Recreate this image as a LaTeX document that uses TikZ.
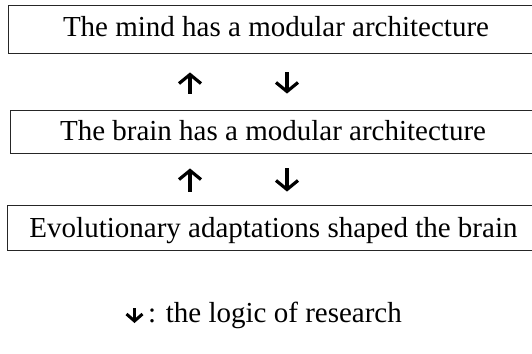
\documentclass[tikz,border=0pt]{standalone}
\usepackage{fontspec}
\setmainfont{Liberation Serif}
\usetikzlibrary{arrows.meta}
\tikzset{
  boxsty/.style={draw=black!85, line width=0.9pt, rectangle, inner sep=0pt},
  txt/.style={inner sep=0pt, font=\fontsize{29}{34}\selectfont},
  arr/.style={line width=3.2pt, -{Straight Barb[length=9pt,width=22pt,line width=3.2pt]}},
  smallarr/.style={line width=3pt, -{Straight Barb[length=7pt,width=16pt,line width=3pt]}}
}
\begin{document}
\begin{tikzpicture}[x=1pt,y=-1pt]
\clip (0,0) rectangle (532,353);
\fill[white] (0,0) rectangle (532,353);
% boxes
\node[boxsty, minimum width=536pt, minimum height=48pt] (b1) at (276,29) {};
\node[boxsty, minimum width=526pt, minimum height=43pt] (b2) at (273,131.5) {};
\node[boxsty, minimum width=533pt, minimum height=45pt] (b3) at (273.5,227.5) {};
% texts
\node[txt, anchor=base] (t1) at (276,37) {The mind has a modular architecture};
\node[txt, anchor=base] (t2) at (273,140) {The brain has a modular architecture};
\node[txt, anchor=base] (t3) at (273.5,237) {Evolutionary adaptations shaped the brain};
% arrow columns
\coordinate (cu) at (190,0);
\coordinate (cd) at (287,0);
\draw[arr, shorten <=16pt, shorten >=19pt] (b2.north -| cu) -- (b1.south -| cu);
\draw[arr, shorten <=19pt, shorten >=16pt] (b1.south -| cd) -- (b2.north -| cd);
\draw[arr, shorten <=13pt, shorten >=15pt] (b3.north -| cu) -- (b2.south -| cu);
\draw[arr, shorten <=15pt, shorten >=13pt] (b2.south -| cd) -- (b3.north -| cd);
% legend
\coordinate (la) at (134.5,308);
\coordinate (lb) at (134.5,323);
\draw[smallarr] (la) -- (lb);
\node[txt, anchor=base west] (leg) at (148,322) {: the logic of research};
\end{tikzpicture}
\end{document}
